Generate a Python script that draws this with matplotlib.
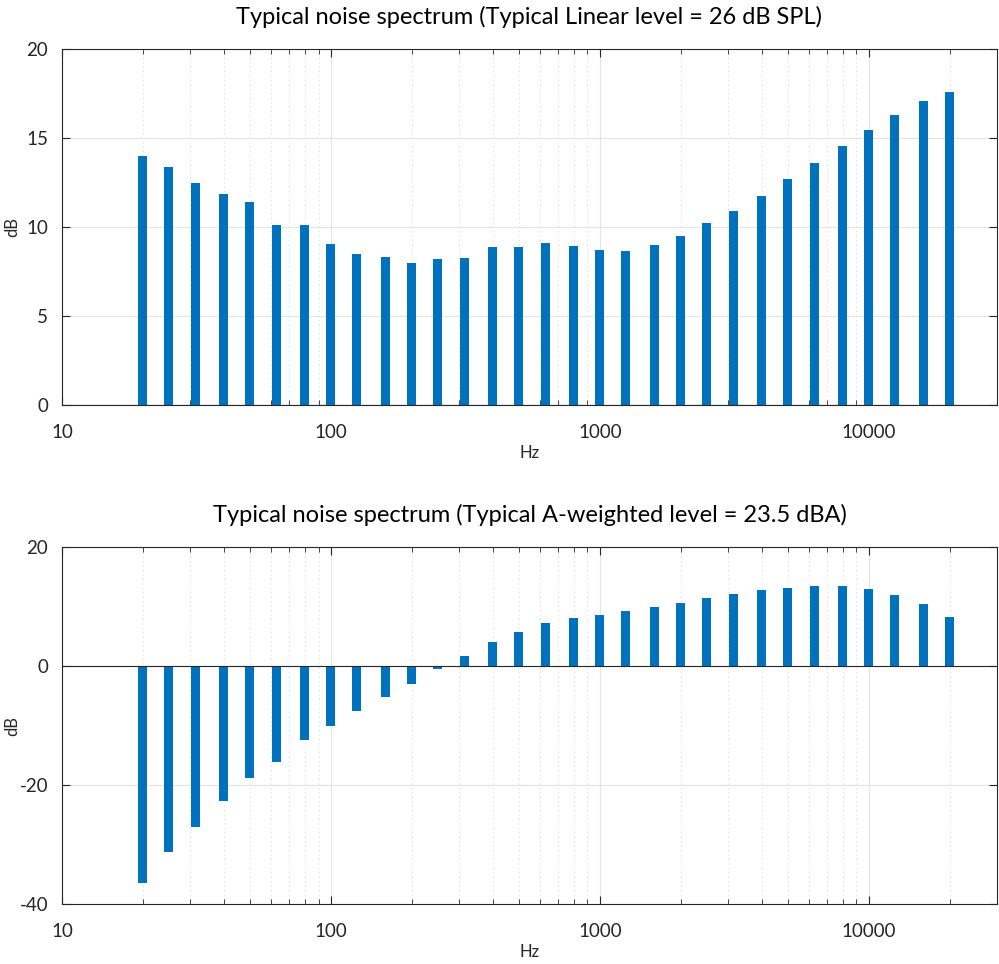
import numpy as np
import matplotlib.pyplot as plt
from matplotlib.ticker import FixedLocator, NullFormatter

plt.rcParams['font.family'] = ['Lato', 'DejaVu Sans']

# 1/3 octave band centres (Hz)
freqs = [20, 25, 31.5, 40, 50, 63, 80, 100, 125, 160, 200, 250, 315, 400, 500,
         630, 800, 1000, 1250, 1600, 2000, 2500, 3150, 4000, 5000, 6300, 8000,
         10000, 12500, 16000, 20000]

# linear spectrum (dB)
linear_db = [14.0, 13.4, 12.45, 11.85, 11.4, 10.1, 10.1, 9.05, 8.5, 8.3, 7.95,
             8.2, 8.25, 8.85, 8.9, 9.1, 8.95, 8.7, 8.65, 9.0, 9.5, 10.2, 10.9,
             11.75, 12.7, 13.6, 14.55, 15.45, 16.3, 17.1, 17.6]

# A-weighted spectrum (dB)
aweighted_db = [-36.5, -31.3, -27.0, -22.75, -18.8, -16.1, -12.4, -10.1, -7.6,
                -5.1, -2.95, -0.4, 1.65, 4.05, 5.7, 7.2, 8.15, 8.7, 9.25, 10.0,
                10.7, 11.5, 12.1, 12.75, 13.2, 13.5, 13.45, 12.95, 12.0, 10.5, 8.3]

titles = ['Typical noise spectrum (Typical Linear level = 26 dB SPL)',
          'Typical noise spectrum (Typical A-weighted level = 23.5 dBA)']

blue = '#0072BD'
f = np.array(freqs)
half = 10 ** 0.0167
left = f / half
widths = f * half - left

fig = plt.figure(figsize=(9.99, 9.64), dpi=100)
ax1 = fig.add_axes([0.062, 0.580, 0.936, 0.369])
ax2 = fig.add_axes([0.062, 0.0622, 0.936, 0.370])

minor = [k * 10 ** d for d in range(1, 5) for k in range(2, 10)]

for ax, vals, title, ylim, yt in [(ax1, linear_db, titles[0], (0, 20), [0, 5, 10, 15, 20]),
                                  (ax2, aweighted_db, titles[1], (-40, 20), [-40, -20, 0, 20])]:
    ax.bar(left, vals, width=widths, align='edge', color=blue, zorder=3)
    ax.axhline(0, color='#262626', lw=0.8, zorder=4)
    ax.set_xscale('log')
    ax.set_xlim(10, 30000)
    ax.set_ylim(*ylim)
    ax.set_yticks(yt)
    ax.set_yticklabels([str(v) for v in yt])
    ax.xaxis.set_major_locator(FixedLocator([10, 100, 1000, 10000]))
    ax.xaxis.set_major_formatter(plt.FuncFormatter(lambda v, p: '%d' % v))
    ax.xaxis.set_minor_locator(FixedLocator([m for m in minor if m < 30000]))
    ax.xaxis.set_minor_formatter(NullFormatter())
    ax.grid(True, which='major', color='#e3e3e3', lw=0.8, zorder=0)
    ax.grid(True, which='minor', axis='x', color='#d8d8d8', lw=0.8, ls=(0, (1, 3)), zorder=0)
    ax.tick_params(which='both', direction='in', top=True, right=True, colors='#262626',
                   labelsize=13.5)
    ax.tick_params(axis='x', pad=14)
    ax.tick_params(axis='y', pad=10)
    ax.tick_params(which='major', length=6)
    ax.tick_params(which='minor', length=3.5)
    for s in ax.spines.values():
        s.set_color('#262626')
        s.set_linewidth(0.8)
    ax.set_xlabel('Hz', fontsize=12, color='#262626')
    ax.set_ylabel('dB', fontsize=12, color='#262626')
    ax.yaxis.set_label_coords(-0.045, 0.5)
    ax.xaxis.set_label_coords(0.5, -0.113)
    ax.set_title(title, fontsize=17, color='black', pad=18)

fig.savefig('out.png', dpi=100)
